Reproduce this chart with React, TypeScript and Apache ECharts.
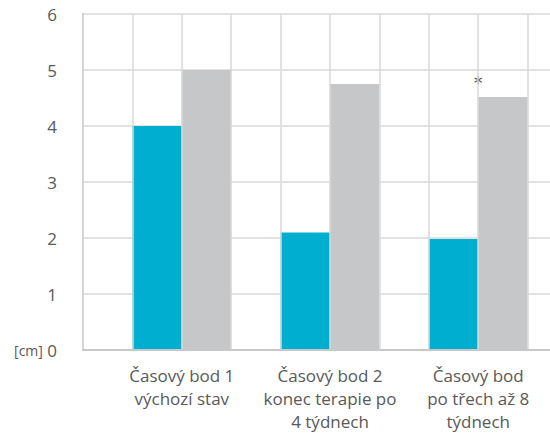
import React, { useEffect, useRef } from "react";
import * as echarts from "echarts";

const categories = [
  "Časový bod 1\nvýchozí stav",
  "Časový bod 2\nkonec terapie po\n4 týdnech",
  "Časový bod\npo třech až 8\ntýdnech",
];
const cyanValues = [4.0, 2.1, 1.98];
const grayValues = [5.0, 4.75, 4.52];
const yTicks = [0, 1, 2, 3, 4, 5, 6];
const significance = ["", "", "*"];
// grid cells along the x axis: each category occupies two cells (cyan, gray) after one empty cell
const cellCount = 10;
const cyanCells = [1, 4, 7];
const grayCells = [2, 5, 8];

const FONT = "'Open Sans', 'Noto Sans', sans-serif";
const GRID_COLOR = "#d9d9d9";
const CELL = 49.4;

export default function App() {
  const ref = useRef<HTMLDivElement>(null);
  useEffect(() => {
    if (!ref.current) return;
    const chart = echarts.init(ref.current, null, { renderer: "svg" });
    const cells = Array.from({ length: cellCount }, (_, i) => String(i));
    const cyanData: any[] = cells.map(() => null);
    const grayData: any[] = cells.map(() => null);
    const labelByCell: Record<number, string> = {};
    cyanCells.forEach((c, i) => {
      cyanData[c] = cyanValues[i];
      labelByCell[c] = categories[i];
    });
    grayCells.forEach((c, i) => {
      grayData[c] = significance[i]
        ? {
            value: grayValues[i],
            label: {
              show: true,
              formatter: significance[i],
              position: "top",
              offset: [-CELL / 2, 0],
              distance: 5,
              color: "#3f3f3f",
              fontSize: 17,
              fontFamily: "'DejaVu Sans', sans-serif",
              backgroundColor: "#ffffff",
              padding: [0, 1],
              lineHeight: 17,
            },
          }
        : grayValues[i];
    });
    chart.setOption({
      animation: false,
      grid: {
        left: 83,
        right: 550 - 83 - CELL * cellCount,
        top: 14,
        bottom: 83,
        containLabel: false,
        outerBoundsMode: "none",
      },
      xAxis: {
        type: "category",
        data: cells,
        boundaryGap: true,
        axisLine: { show: true, lineStyle: { color: "#c8c8c8", width: 2 } },
        axisTick: { show: false },
        splitLine: {
          show: true,
          interval: 0,
          lineStyle: { color: GRID_COLOR, width: 1.5 },
        },
        axisLabel: {
          interval: 0,
          margin: 14,
          formatter: (_v: string, idx: number) => {
            const t = labelByCell[idx];
            if (!t) return "";
            return t
              .split("\n")
              .map((line) => `{a|${line}}`)
              .join("\n");
          },
          rich: {
            a: {
              color: "#595959",
              fontFamily: FONT,
              fontSize: 17,
              lineHeight: 23,
              padding: [0, 0, 0, CELL],
              align: "center",
            },
          },
          align: "center",
        },
        z: 3,
      },
      yAxis: {
        type: "value",
        min: yTicks[0],
        max: yTicks[yTicks.length - 1],
        interval: 1,
        axisLine: { show: true, lineStyle: { color: "#c8c8c8", width: 2 } },
        axisTick: { show: false },
        splitLine: { show: true, lineStyle: { color: GRID_COLOR, width: 1.5 } },
        axisLabel: {
          margin: 26,
          color: "#595959",
          fontFamily: FONT,
          fontSize: 17,
          formatter: (v: number) => (v === 0 ? "{u|[cm]} {n|0}" : String(v)),
          rich: {
            u: { fontSize: 14, color: "#595959", fontFamily: FONT },
            n: { fontSize: 17, color: "#595959", fontFamily: FONT },
          },
        },
      },
      series: [
        {
          type: "bar",
          data: cyanData,
          barWidth: "100%",
          barGap: "-100%",
          itemStyle: { color: "#00afd0" },
        },
        {
          type: "bar",
          data: grayData,
          barWidth: "100%",
          barGap: "-100%",
          itemStyle: { color: "#c6c7c8" },
        },
      ],
    });
    return () => chart.dispose();
  }, []);
  return (
    <div
      ref={ref}
      style={{ position: "absolute", left: 0, top: 0, width: 550, height: 433 }}
    />
  );
}
